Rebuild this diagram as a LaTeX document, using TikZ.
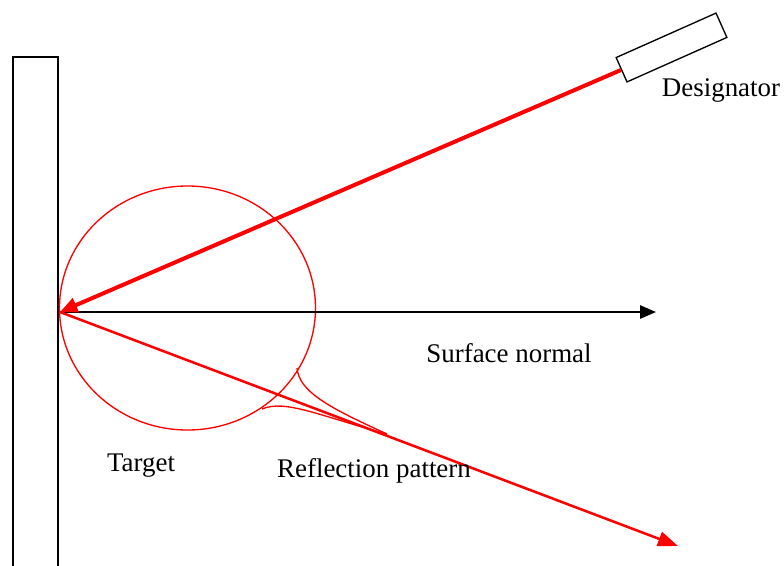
\documentclass[tikz,border=0pt]{standalone}
\usepackage{fontspec}
\setmainfont{Liberation Serif}
\usetikzlibrary{arrows.meta}
\begin{document}
\begin{tikzpicture}[x=0.75pt,y=-0.75pt,
  lbl/.style={font=\fontsize{20.2}{24}\selectfont, inner sep=0pt},
  beam/.style={draw=red, line width=3pt},
  refl/.style={draw=red, line width=1.9pt},
  thin/.style={draw=red, line width=1pt}]
\useasboundingbox (0,0) rectangle (784,565);
% wall
\draw[line width=1.3pt] (13,566) -- (13,57) -- (58,57) -- (58,566);
% key points
\coordinate (O) at (60,312);
\coordinate (N) at (656,312);
\coordinate (R) at (678,546);
\coordinate (P) at (387,434);
% target circle
\draw[thin] (187.5,308) ellipse [x radius=128, y radius=122];
% designator
\node[draw, line width=1pt, minimum width=82pt, minimum height=20pt, rotate=24, inner sep=0pt] (des) at (671.5,47.5) {};
% surface normal
\draw[line width=1.3pt, -{Triangle[length=12pt,width=10pt]}] (O) -- (N);
% incoming beam
\draw[beam, -{Triangle[length=13pt,width=11pt]}] (des.west) -- (O);
% reflected beam
\draw[refl, -{Triangle[length=15pt,width=11pt]}] (O) -- (R);
% reflection pattern lobes
\draw[thin] (297,368) .. controls (299,392) and (330,408) .. (P);
\draw[thin] (262,409) .. controls (285,399) and (320,416) .. (P);
% labels
\node[lbl] (tdes) at (721,90) {Designator};
\node[lbl] (tsn) at (509,353) {Surface normal};
\node[lbl] (ttg) at (141,466) {Target};
\node[lbl] (trp) at (374,471) {Reflection pattern};
\end{tikzpicture}
\end{document}
